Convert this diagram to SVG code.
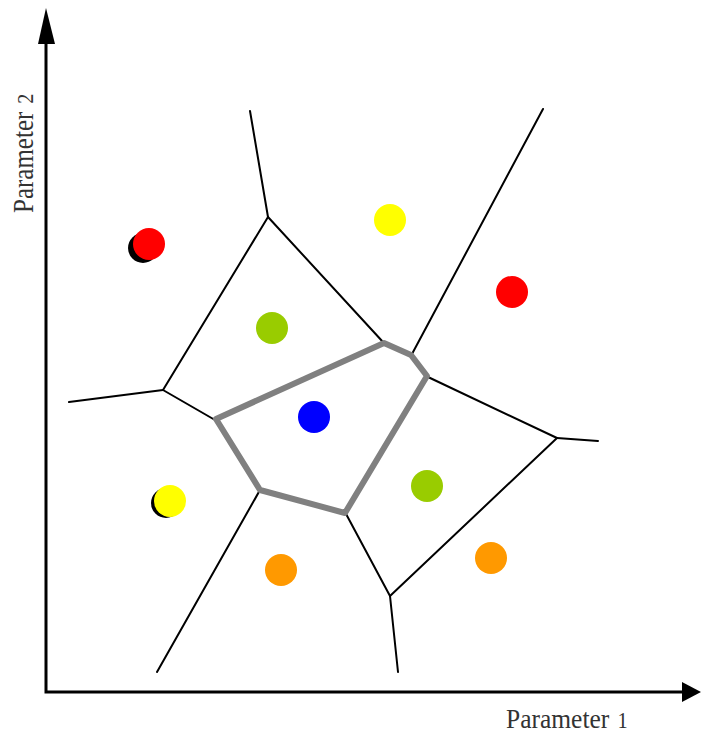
<svg xmlns="http://www.w3.org/2000/svg" width="702" height="735" viewBox="0 0 702 735">
<style>
.edge{stroke:#000;stroke-width:2;fill:none;stroke-linecap:round}
.cell{stroke:#808080;stroke-width:6;fill:none;stroke-linejoin:round}
.axis{stroke:#000;stroke-width:3;fill:none}
.lbl{font-family:"Liberation Serif","Times New Roman",serif;font-size:25px;fill:#333}
.shadow{fill:#000}
</style>
<rect width="702" height="735" fill="#fff"/>
<g id="axes">
<path class="axis" d="M46,42 V692 H683"/>
<polygon points="46,8 38,44 55,44" fill="#000"/>
<polygon points="701,692 682,682 682,702" fill="#000"/>
</g>
<g id="connectors">
<path class="edge" d="M250,111 L268,217"/>
<path class="edge" d="M268,217 L383,342"/>
<path class="edge" d="M268,217 L163,390"/>
<path class="edge" d="M69,402 L163,390"/>
<path class="edge" d="M163,390 L215,420"/>
<path class="edge" d="M543,109 L412,354"/>
<path class="edge" d="M428,377 L557,438"/>
<path class="edge" d="M557,438 L598,441"/>
<path class="edge" d="M557,438 L390,596"/>
<path class="edge" d="M390,596 L345,512"/>
<path class="edge" d="M390,596 L398,672"/>
<path class="edge" d="M260,490 L157,672"/>
</g>
<g id="highlight-cell">
<polygon class="cell" points="216,419 384,343 411,355 427,376 345,513 260,490"/>
</g>
<g id="dot-red-1"><circle class="shadow" cx="143" cy="248" r="15"/><circle cx="149" cy="244" r="16" fill="#ff0000"/></g>
<g id="dot-yellow-1"><circle cx="390" cy="220" r="16" fill="#ffff00"/></g>
<g id="dot-red-2"><circle cx="512" cy="292" r="16" fill="#ff0000"/></g>
<g id="dot-green-1"><circle cx="272" cy="328" r="16" fill="#99cc00"/></g>
<g id="dot-blue"><circle cx="314" cy="417" r="16" fill="#0000ff"/></g>
<g id="dot-yellow-2"><circle class="shadow" cx="166" cy="503" r="15"/><circle cx="170" cy="501" r="16" fill="#ffff00"/></g>
<g id="dot-green-2"><circle cx="427" cy="486" r="16" fill="#99cc00"/></g>
<g id="dot-orange-1"><circle cx="281" cy="570" r="16" fill="#ff9900"/></g>
<g id="dot-orange-2"><circle cx="491" cy="558" r="16" fill="#ff9900"/></g>
<g id="label-x">
<text class="lbl" transform="translate(506,728) scale(1.02,1.12)" x="0" y="0">Parameter<tspan dx="8" font-size="20">1</tspan></text>
</g>
<g id="label-y">
<text class="lbl" transform="translate(33,213) rotate(-90) scale(1,1.15)" x="0" y="0">Parameter<tspan dx="8" font-size="20">2</tspan></text>
</g>
</svg>
